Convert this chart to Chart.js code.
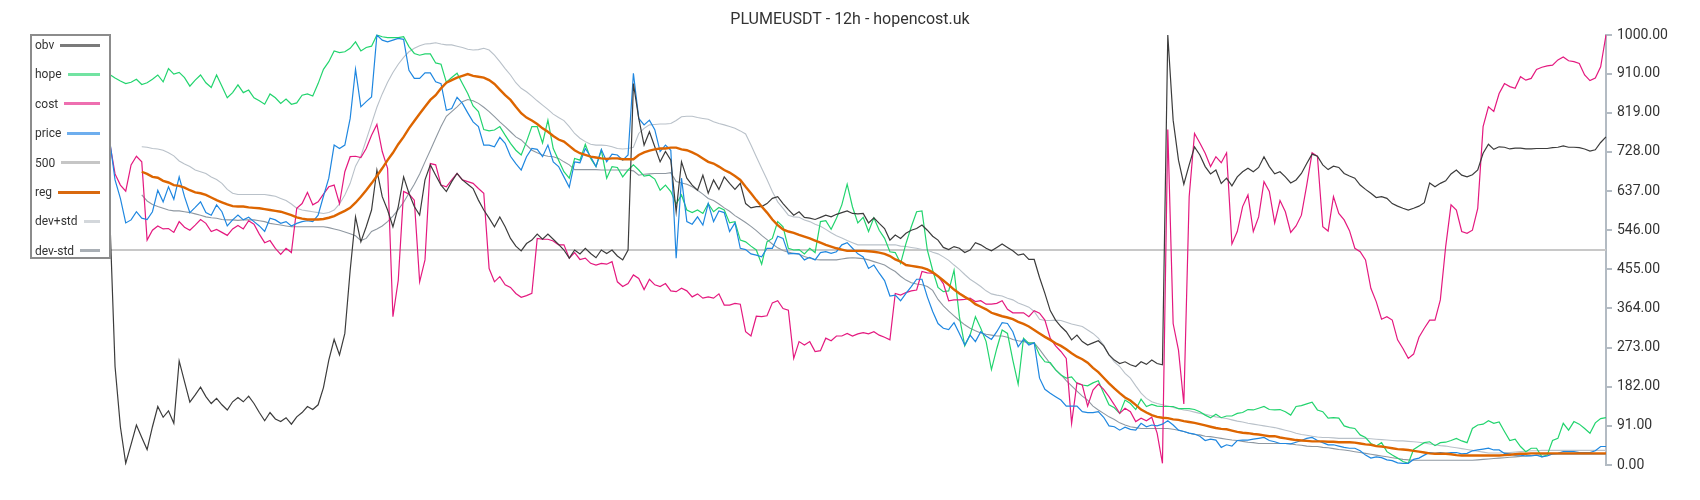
<!DOCTYPE html>
<html>
<head>
<meta charset="utf-8">
<script src="https://cdn.jsdelivr.net/npm/chart.js@4.4.1/dist/chart.umd.min.js"></script>
<style>
  html, body { margin: 0; padding: 0; background: #fff; }
  #wrap { position: relative; width: 1700px; height: 500px; }
  #legend {
    position: absolute; left: 30px; top: 34px; width: 81px; height: 225px;
    box-sizing: border-box; border: 2px solid #8c8c8c; background: #fff;
    font: 12px Roboto, sans-serif; color: #333;
  }
  #legend .row { position: absolute; left: 3px; right: 9px; height: 18px; display: flex; align-items: center; }
  #legend .line { flex: 1; height: 3px; margin-left: 6px; }
</style>
</head>
<body>
<div id="wrap">
  <canvas id="chart" width="1700" height="500"></canvas>
  <div id="legend"></div>
</div>
<script>
// 12h candles
const obv = [
  585, 229, 89, 4, 48, 93, 64, 36, 89, 136, 111, 126, 97, 242, 194, 146, 163, 181, 159, 143,
  155, 140, 128, 147, 157, 147, 160, 143, 122, 103, 122, 107, 101, 110, 95, 112, 122, 136, 129, 140,
  180, 244, 292, 256, 306, 453, 577,
  519, 554, 593, 686, 624, 593, 554, 601, 670, 632, 601, 581, 663, 698, 674, 651, 636, 659, 678, 663,
  653, 643, 616, 593, 574, 554, 577, 554, 527, 509, 498, 515, 523, 537, 525, 537, 525, 513, 500, 481,
  500, 491, 504, 492, 482, 500, 492,
  500, 486, 477, 500, 887, 806, 744, 775, 740, 705, 729, 709, 589, 705, 667, 651, 639, 674, 632, 663,
  641, 670, 655, 641, 655, 608, 598, 601, 601, 608, 620, 624, 608, 594, 581, 589, 576, 574, 571, 576,
  581, 577, 583, 587, 591, 585,
  584, 585, 563, 575, 562, 550, 523, 535, 527, 539, 546, 550, 558, 546, 532, 523, 506, 501, 508, 504,
  494, 500, 517, 512, 504, 498, 506, 514, 506, 498, 488, 491, 478, 478, 436, 399, 359, 337, 322, 310,
  291, 302, 287, 279, 284, 289, 277,
  256, 244, 236, 240, 233, 229, 240, 234, 244, 236, 233, 1000, 802, 709, 653, 698, 740, 721, 694, 677,
  686, 655, 667, 649, 670, 682, 690, 682, 692, 717, 694, 677, 682, 670, 656, 663, 678, 701, 723, 718,
  698, 687, 695, 692, 678, 672,
  667, 651, 641, 632, 622, 624, 620, 608, 602, 597, 593, 597, 602, 610, 656, 647, 655, 661, 677, 686,
  674, 670, 675, 686, 725, 746, 734, 740, 739, 735, 737, 737, 735, 735, 736, 736, 736, 738, 739, 742,
  739, 739, 738, 735, 730, 733, 750, 763
];

const hope = [
  908, 900, 893, 887, 890, 897, 885, 889, 897, 907, 891, 922, 909, 913, 901, 881, 895, 907, 889, 878,
  907, 881, 854, 866, 884, 866, 872, 854, 847, 839, 863, 854, 841, 851, 839, 842, 860, 863, 858, 887,
  920, 938, 963, 959, 961, 969, 984,
  963, 971, 974, 1000, 996, 994, 994, 994, 996, 973, 957, 953, 956, 956, 935, 932, 890, 901, 911, 887,
  864, 835, 822, 780, 777, 779, 787, 767, 748, 732, 721, 752, 787, 787, 749, 802, 736, 709, 682, 667,
  713, 709, 746, 713, 694, 732, 667,
  694, 692, 670, 686, 698, 686, 672, 674, 665, 639, 651, 636, 607, 628, 593, 587, 593, 585, 608, 589,
  599, 593, 563, 566, 523, 519, 509, 500, 467, 519, 527, 566, 554, 504, 500, 501, 491, 504, 494, 566,
  568, 548, 574, 605, 653, 600,
  563, 576, 543, 575, 546, 527, 496, 494, 469, 515, 554, 589, 591, 500, 453, 413, 403, 405, 453, 345,
  277, 302, 345, 318, 287, 222, 271, 314, 306, 244, 188, 295, 283, 284, 256, 240, 238, 221, 209, 202,
  205, 190, 186, 184, 191, 196, 167,
  140, 133, 120, 151, 143, 129, 153, 136, 141, 137, 136, 136, 136, 131, 131, 131, 129, 124, 116, 110,
  118, 110, 114, 114, 120, 122, 129, 128, 132, 136, 129, 128, 129, 124, 116, 136, 138, 142, 146, 128,
  124, 109, 110, 109, 91, 87,
  85, 70, 64, 50, 44, 52, 31, 23, 16, 8, 4, 36, 44, 52, 54, 45, 52, 53, 57, 62,
  56, 52, 85, 93, 95, 103, 97, 100, 78, 57, 60, 43, 31, 39, 39, 19, 23, 57, 62, 97,
  81, 101, 95, 85, 74, 98, 108, 110
];

const cost = [
  750, 677, 651, 637, 698, 718, 705, 523, 546, 556, 549, 550, 541, 566, 553, 546, 558, 571, 562, 543,
  548, 541, 534, 549, 557, 549, 568, 560, 537, 517, 522, 504, 490, 504, 494, 597, 608, 634, 605, 612,
  630, 647, 651, 608, 682, 717, 718,
  715, 736, 767, 792, 729, 690, 345, 430, 636, 630, 616, 426, 477, 701, 698, 651, 647, 663, 678, 663,
  659, 655, 643, 632, 457, 426, 438, 419, 413, 399, 390, 394, 399, 527, 525, 525, 521, 512, 512, 481,
  494, 478, 481, 469, 465, 469, 467,
  473, 426, 415, 422, 442, 434, 408, 432, 419, 415, 422, 405, 403, 411, 405, 391, 398, 388, 391, 388,
  398, 372, 372, 376, 374, 310, 300, 346, 345, 347, 377, 382, 364, 360, 248, 287, 279, 287, 264, 266,
  295, 289, 300, 300, 306, 300,
  305, 308, 305, 310, 302, 297, 291, 399, 395, 401, 405, 407, 450, 447, 446, 439, 422, 382, 384, 384,
  385, 388, 380, 382, 374, 374, 376, 382, 362, 354, 354, 354, 345, 359, 353, 337, 295, 277, 264, 248,
  97, 191, 186, 137, 174, 188, 176,
  159, 140, 120, 132, 124, 101, 109, 103, 111, 74, 4, 780, 329, 267, 142, 624, 771, 749, 725, 694,
  717, 703, 726, 514, 543, 601, 628, 543, 577, 659, 636, 563, 615, 589, 541, 556, 581, 651, 726, 718,
  554, 544, 624, 585, 570, 545,
  504, 496, 477, 411, 380, 339, 345, 337, 291, 271, 248, 258, 297, 318, 337, 337, 384, 508, 605, 593,
  543, 539, 546, 597, 787, 833, 822, 864, 887, 880, 876, 903, 895, 899, 920, 925, 928, 930, 942, 949,
  940, 938, 934, 907, 894, 900, 926, 1000
];

const price = [
  755, 663, 620, 563, 570, 589, 574, 571, 589, 639, 612, 647, 618, 670, 624, 587, 599, 612, 587, 581,
  605, 589, 556, 570, 581, 570, 576, 566, 556, 543, 574, 570, 562, 566, 556, 562, 566, 568, 566, 581,
  625, 667, 744, 736, 744, 806, 920,
  833, 845, 856, 1000, 988, 984, 988, 992, 990, 918, 899, 899, 912, 912, 891, 887, 825, 829, 855, 841,
  819, 798, 787, 744, 744, 740, 762, 748, 718, 701, 686, 717, 736, 734, 717, 744, 705, 694, 670, 646,
  705, 703, 736, 717, 694, 734, 705,
  723, 721, 709, 721, 911, 806, 791, 802, 780, 729, 744, 732, 481, 667, 566, 560, 577, 558, 608, 566,
  591, 587, 543, 563, 504, 501, 491, 488, 484, 504, 504, 532, 527, 491, 492, 491, 477, 483, 477, 494,
  496, 492, 496, 512, 517, 504,
  491, 484, 457, 465, 446, 429, 393, 395, 382, 399, 415, 432, 432, 391, 357, 329, 318, 315, 331, 306,
  279, 302, 287, 310, 300, 292, 310, 331, 329, 310, 275, 292, 279, 284, 202, 176, 167, 159, 151, 137,
  137, 137, 124, 122, 122, 124, 111,
  91, 89, 81, 88, 83, 81, 97, 89, 93, 91, 95, 103, 93, 81, 78, 74, 72, 67, 57, 60,
  58, 41, 47, 44, 57, 58, 58, 60, 62, 64, 57, 54, 50, 50, 49, 53, 57, 62, 64, 57,
  52, 47, 47, 44, 41, 39,
  39, 33, 23, 16, 19, 17, 12, 10, 5, 4, 4, 13, 16, 23, 29, 27, 29, 27, 29, 29,
  26, 27, 33, 35, 37, 39, 35, 35, 27, 26, 23, 23, 21, 21, 23, 19, 21, 26, 27, 31,
  31, 31, 29, 29, 29, 33, 43, 43
];

const reg = [
  null, null, null, null, null, null,
  682, 677, 670, 668, 661, 657, 651, 649, 645, 639, 634, 632, 628, 622, 616, 611, 606, 602, 601, 601,
  599, 598, 597, 595, 593, 591, 589, 585, 581, 576, 573, 571, 571, 571, 572, 575, 579, 585, 591, 598,
  610,
  624, 639, 655, 672, 690, 709, 726, 746, 763, 783, 800, 817, 833, 849, 860, 876, 889, 895, 901, 905,
  909, 905, 903, 901, 895, 886, 873, 860, 849, 833, 818, 808, 801, 793, 783, 775, 765, 757, 752, 742,
  732, 725, 721, 717, 715, 713, 712,
  713, 713, 711, 711, 711, 721, 727, 731, 734, 736, 736, 738, 738, 734, 732, 727, 721, 713, 705, 701,
  694, 686, 680, 672, 663, 647, 632, 616, 601, 587, 571, 558, 548, 543, 540, 535, 531, 527, 522, 517,
  512, 508, 504, 501, 498, 498,
  498, 498, 497, 496, 494, 491, 486, 478, 473, 465, 463, 461, 459, 455, 448, 439, 429, 419, 408, 399,
  391, 384, 374, 368, 362, 354, 350, 346, 343, 339, 333, 328, 322, 314, 306, 298, 291, 283, 277, 269,
  260, 252, 246, 238, 226, 216, 203,
  190, 178, 167, 157, 150, 140, 129, 122, 116, 112, 110, 109, 106, 105, 102, 100, 98, 95, 92, 89,
  86, 84, 83, 80, 77, 75, 74, 72, 71, 69, 67, 67, 64, 62, 60, 58, 57, 56, 55, 55,
  55, 54, 54, 53, 53, 53,
  52, 50, 48, 47, 44, 43, 41, 39, 37, 36, 35, 33, 31, 29, 27, 26, 26, 26, 25, 23,
  22, 22, 22, 22, 22, 22, 22, 22, 23, 24, 25, 26, 26, 27, 27, 27, 27, 27, 27, 27,
  27, 27, 27, 27, 27, 27, 27, 27
];

const devUp = [
  null, null, null, null, null, null,
  740, 739, 736, 735, 732, 726, 719, 707, 700, 694, 686, 682, 678, 670, 664, 655, 641, 632, 629, 629,
  629, 629, 629, 629, 627, 625, 620, 615, 607, 597, 593, 591, 589, 587, 585, 587, 593, 607, 628, 655,
  695,
  718, 756, 794, 832, 863, 890, 913, 932, 948, 961, 969, 975, 979, 980, 982, 979, 977, 977, 974, 971,
  967, 965, 966, 969, 965, 953, 938, 922, 907, 889, 876, 868, 858, 847, 837, 827, 816, 808, 801, 787,
  771, 760, 752, 746, 744, 744, 743,
  740, 736, 735, 736, 739, 771, 783, 791, 792, 793, 793, 794, 801, 810, 811, 811, 808, 806, 804, 798,
  794, 791, 787, 783, 777, 770, 744, 717, 690, 664, 636, 612, 597, 581, 577, 576, 570, 566, 560, 555,
  548, 540, 533, 528, 522, 517,
  512, 512, 512, 512, 512, 512, 512, 512, 509, 508, 506, 504, 501, 500, 495, 491, 484, 476, 465, 455,
  443, 432, 424, 415, 405, 398, 395, 393, 388, 384, 377, 372, 367, 357, 339, 336, 336, 337, 336, 332,
  328, 325, 322, 314, 306, 295, 279,
  256, 240, 229, 213, 202, 184, 167, 155, 147, 143, 140, 137, 134, 131, 128, 126, 123, 120, 118, 115,
  112, 110, 108, 105, 102, 100, 97, 95, 93, 91, 89, 87, 84, 81, 78, 74, 71, 69, 67, 65,
  64, 64, 63, 62, 62, 62,
  62, 62, 62, 61, 60, 59, 58, 57, 56, 56, 55, 54, 53, 51, 49, 47, 45, 44, 42, 40,
  38, 36, 34, 32, 30, 28, 28, 28, 29, 29, 30, 31, 32, 33, 33, 34, 34, 34, 34, 34,
  34, 34, 34, 34, 34, 34, 34, 34
];

const devDn = [
  null, null, null, null, null, null,
  628, 614, 606, 601, 597, 593, 591, 591, 589, 587, 584, 581, 577, 575, 574, 571, 570, 570, 569, 570,
  570, 570, 568, 566, 562, 560, 558, 556, 554, 554, 554, 554, 554, 554, 554, 552, 549, 546, 542, 538,
  533,
  522, 527, 543, 549, 556, 566, 579, 594, 611, 632, 653, 677, 705, 732, 760, 787, 811, 822, 833, 845,
  850, 847, 841, 832, 822, 810, 798, 787, 775, 763, 756, 744, 732, 726, 721, 718, 717, 713, 705, 698,
  687, 687, 687, 687, 687, 686, 686,
  686, 686, 686, 686, 684, 674, 676, 677, 678, 678, 678, 680, 659, 656, 653, 647, 639, 630, 620, 615,
  607, 598, 590, 580, 572, 564, 555, 545, 534, 524, 514, 505, 499, 495, 492, 490, 485, 481, 478, 477,
  477, 477, 477, 479, 481, 482,
  481, 480, 477, 473, 469, 465, 457, 450, 439, 430, 424, 421, 419, 415, 406, 385, 370, 358, 347, 336,
  326, 318, 312, 307, 304, 302, 300, 300, 297, 292, 289, 287, 285, 284, 269, 252, 236, 222, 210, 196,
  184, 172, 160, 151, 137, 128, 120,
  112, 106, 98, 93, 89, 87, 85, 85, 85, 85, 85, 85, 83, 81, 78, 74, 71, 70, 67, 66,
  64, 62, 60, 58, 57, 55, 53, 52, 50, 50, 50, 50, 50, 50, 49, 47, 46, 44, 43, 43,
  41, 40, 38, 36, 35, 33,
  31, 29, 27, 25, 23, 21, 19, 17, 15, 13, 12, 11, 11, 11, 11, 11, 11, 11, 11, 11,
  11, 11, 11, 12, 13, 14, 15, 16, 17, 18, 19, 20, 21, 22, 23, 24, 24, 25, 25, 25,
  25, 25, 25, 25, 25, 25, 25, 25
];

const midLevel = 500;
const candles = Array.from({ length: obv.length }, (_, i) => i + 1);
const yTicks = [0, 91, 182, 273, 364, 455, 546, 637, 728, 819, 910, 1000];

// legend entries in the order of the reference box
const legendItems = [
  { label: 'obv', color: '#7a7a7a' },
  { label: 'hope', color: '#72e3a2' },
  { label: 'cost', color: '#ee6fb0' },
  { label: 'price', color: '#6eaeee' },
  { label: '500', color: '#c6c6c6' },
  { label: 'reg', color: '#d9690f' },
  { label: 'dev+std', color: '#d3d7db' },
  { label: 'dev-std', color: '#a9afb5' }
];

function buildLegend() {
  const box = document.getElementById('legend');
  legendItems.forEach((item, i) => {
    const row = document.createElement('div');
    row.className = 'row';
    row.style.top = (i * 29.4) + 'px';
    const text = document.createElement('span');
    text.textContent = item.label;
    const line = document.createElement('span');
    line.className = 'line';
    line.style.background = item.color;
    row.appendChild(text);
    row.appendChild(line);
    box.appendChild(row);
  });
}

function line(label, data, color, width, order) {
  return { label, data, borderColor: color, backgroundColor: color, borderWidth: width, order, fill: false };
}

function draw() {
  Chart.defaults.font.family = 'Roboto, sans-serif';
  buildLegend();

  new Chart(document.getElementById('chart'), {
    type: 'line',
    data: {
      labels: candles,
      datasets: [
        line('obv', obv, '#3c3c3c', 1.2, 1),
        line('hope', hope, '#22d46e', 1.2, 4),
        line('cost', cost, '#e4197f', 1.2, 3),
        line('price', price, '#1f87e0', 1.2, 2),
        line('500', candles.map(() => midLevel), '#c8c8c8', 2, 7),
        line('reg', reg, '#dd6500', 2.4, 0),
        line('dev+std', devUp, '#b9c1c9', 1.1, 5),
        line('dev-std', devDn, '#8f98a1', 1.1, 6)
      ]
    },
    options: {
      responsive: false,
      animation: false,
      devicePixelRatio: 1,
      layout: { padding: { left: 0, right: 0, top: 0, bottom: 35 } },
      elements: { point: { radius: 0 }, line: { tension: 0 } },
      plugins: {
        legend: { display: false },
        tooltip: { enabled: false },
        title: {
          display: true,
          text: 'PLUMEUSDT - 12h - hopencost.uk',
          color: '#333',
          font: { size: 16, weight: 'normal', lineHeight: 1.2 },
          padding: { top: 10, bottom: 5.8 }
        }
      },
      scales: {
        x: { display: false },
        // empty spacer on the left, the legend box sits over it
        spacer: {
          type: 'linear',
          position: 'left',
          display: true,
          afterFit: (scale) => { scale.width = 109.7; },
          ticks: { display: false },
          grid: { display: false, drawTicks: false },
          border: { display: false }
        },
        y: {
          position: 'right',
          min: 0,
          max: 1000,
          afterBuildTicks: (scale) => { scale.ticks = yTicks.map(v => ({ value: v })); },
          afterFit: (scale) => { scale.width = 94; },
          ticks: { color: '#333', font: { size: 14 }, padding: 5, autoSkip: false, callback: (v) => Number(v).toFixed(2) },
          grid: { drawOnChartArea: false, drawTicks: true, tickLength: 6, color: '#b3bbc3', lineWidth: 2 },
          border: { display: true, color: '#b3bbc3', width: 2 }
        }
      }
    }
  });
}

document.fonts.load('14px Roboto').then(draw, draw);
</script>
</body>
</html>
